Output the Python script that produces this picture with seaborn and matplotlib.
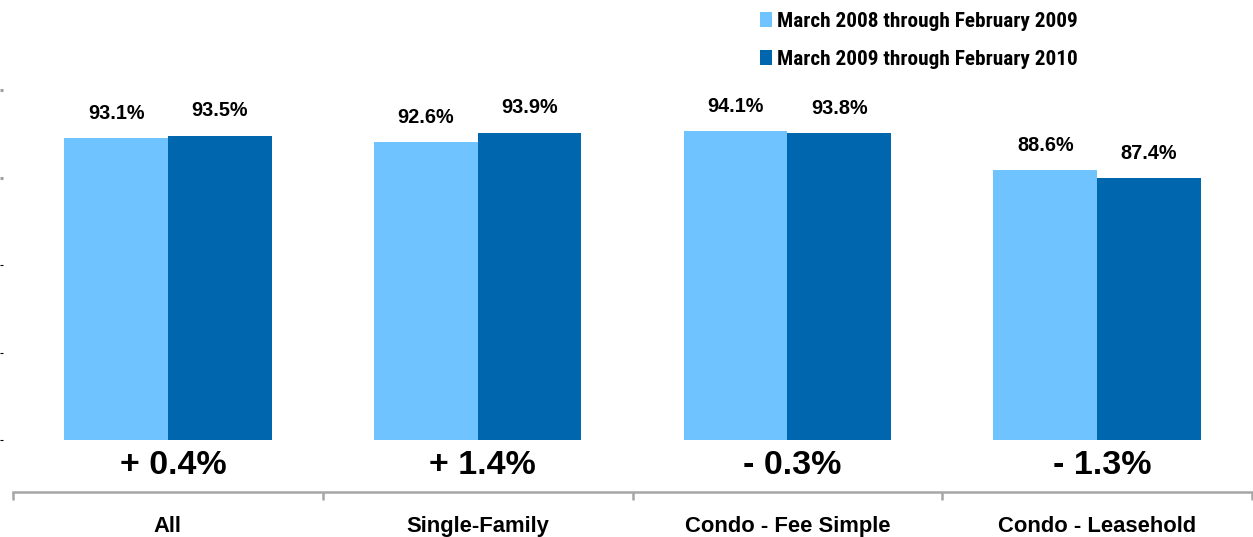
import matplotlib
matplotlib.use("Agg")
import matplotlib.pyplot as plt
import matplotlib.transforms as mtransforms
from matplotlib.patches import Patch
import seaborn as sns
import pandas as pd

categories = ["All", "Single-Family", "Condo - Fee Simple", "Condo - Leasehold"]
series_names = ["March 2008 through February 2009", "March 2009 through February 2010"]
values_2008_09 = [93.1, 92.6, 94.1, 88.6]
values_2009_10 = [93.5, 93.9, 93.8, 87.4]
change_labels = ["+ 0.4%", "+ 1.4%", "- 0.3%", "- 1.3%"]
y_ticks = [50, 62.5, 75, 87.5, 100]

colors = ["#6FC3FF", "#0066AE"]

df = pd.DataFrame({
    "category": categories * 2,
    "period": [series_names[0]] * 4 + [series_names[1]] * 4,
    "value": values_2008_09 + values_2009_10,
})

sns.set_theme(style="white")
plt.rcParams["font.family"] = ["Liberation Sans", "DejaVu Sans"]
plt.rcParams["text.color"] = "black"

W, H = 1253, 537
fig = plt.figure(figsize=(W / 100, H / 100), dpi=100)

def px_axes(left, top, right, bottom):
    return fig.add_axes([left / W, 1 - bottom / H, (right - left) / W, (bottom - top) / H])

# main bar panel
ax = px_axes(3, 90, 1253, 440)
sns.barplot(data=df, x="category", y="value", hue="period", order=categories,
            hue_order=series_names, palette=colors, width=0.67, gap=0,
            saturation=1, legend=False, linewidth=0, edgecolor="none", ax=ax)
ax.set_xlim(-0.5327, 3.503)
ax.set_ylim(50, 100)
ax.set_xlabel("")
ax.set_ylabel("")
ax.set_xticks([])
ax.set_yticks(y_ticks)
ax.set_yticklabels([])
for s in ax.spines.values():
    s.set_visible(False)
ax.tick_params(axis="y", which="major", left=True, direction="out", length=2.2, width=0.8, color="black")
for t, v in zip(ax.yaxis.get_major_ticks(), y_ticks):
    if v >= 87.5:
        t.tick1line.set_color("#A0A0A0")
        t.tick1line.set_markeredgecolor("#A0A0A0")
        t.tick1line.set_markeredgewidth(2.2)

for bar_container in ax.containers:
    ax.bar_label(bar_container, labels=[f"{v:.1f}%" for v in bar_container.datavalues],
                 padding=11, fontsize=14.3, fontweight="bold", color="black")

# category axis below the bars
ax2 = px_axes(13, 440, 1252, 492)
ax2.set_xlim(-0.5, 3.5)
ax2.set_ylim(0, 1)
for name, s in ax2.spines.items():
    s.set_visible(name == "bottom")
ax2.spines["bottom"].set_color("#A6A6A6")
ax2.spines["bottom"].set_linewidth(1.8)
ax2.set_yticks([])
ax2.set_xticks(range(len(categories)))
ax2.set_xticklabels(categories, fontsize=15.8, fontweight="bold", color="black")
ax2.set_xticks([i - 0.5 for i in range(len(categories) + 1)], minor=True)
ax2.tick_params(axis="x", which="major", bottom=True, length=0, pad=17)
ax2.tick_params(axis="x", which="minor", bottom=True, length=5.5, width=1.8,
                color="#A6A6A6", direction="out")
ax2.patch.set_visible(False)

trans = mtransforms.blended_transform_factory(ax2.transData, fig.transFigure)
trans = trans + mtransforms.ScaledTranslation(5 / 100, 0, fig.dpi_scale_trans)
for i, lab in enumerate(change_labels):
    ax2.text(i, 1 - 465 / H, lab, transform=trans, ha="center", va="center",
             fontsize=24.5, fontweight="bold", color="black")

handles = [Patch(facecolor=c, edgecolor="none") for c in colors]
leg = fig.legend(handles, series_names, loc="upper left",
                 bbox_to_anchor=(760 / W, 1 - 12 / H), frameon=False,
                 prop={"family": ["Liberation Sans Narrow", "Roboto Condensed",
                                  "Arial Narrow", "Liberation Sans"],
                       "weight": "bold", "size": 15.3},
                 labelcolor="black",
                 handlelength=0.58, handleheight=0.7, handletextpad=0.22,
                 labelspacing=0.9, borderpad=0, borderaxespad=0)

fig.savefig("out.png", dpi=100)
